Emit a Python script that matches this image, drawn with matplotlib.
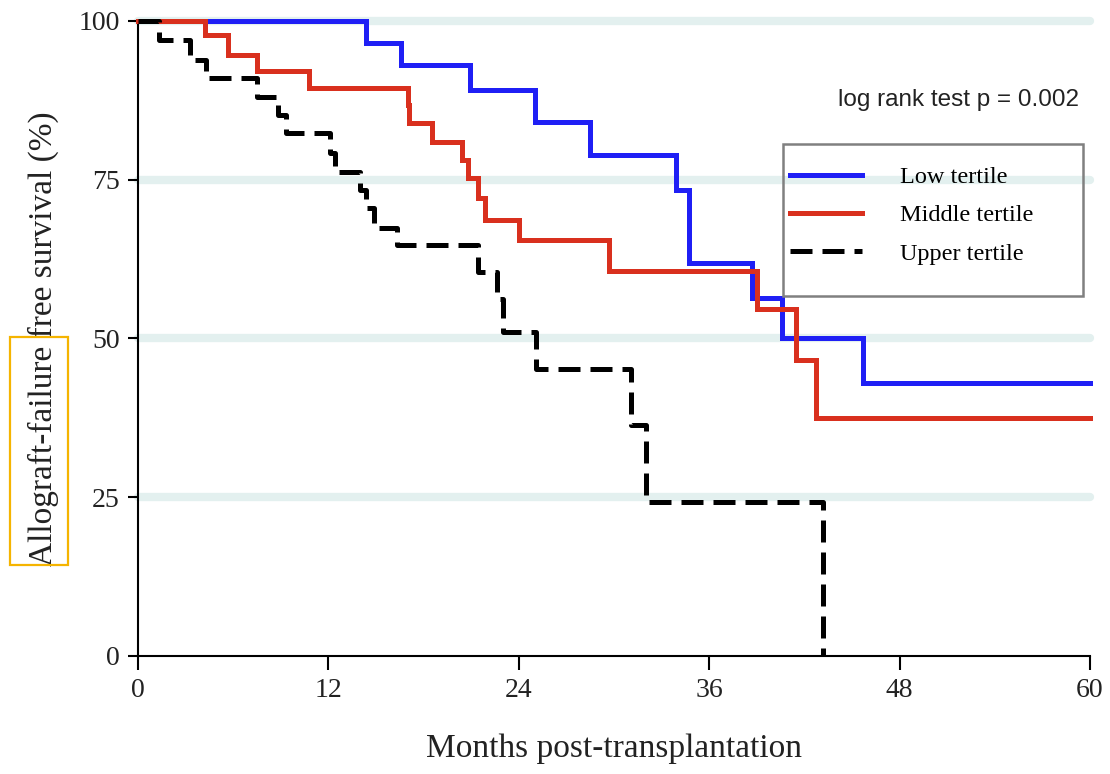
import matplotlib.pyplot as plt
from matplotlib.patches import Rectangle

# Kaplan-Meier step data (months, survival %)
low_t = [0, 14.4, 16.6, 20.9, 25.0, 28.5, 33.9, 34.7, 38.7, 40.6, 45.7, 60]
low_s = [100, 96.5, 93.1, 89.1, 84.1, 78.9, 73.4, 61.9, 56.4, 50.1, 43.0, 43.0]

mid_t = [0, 4.2, 5.7, 7.5, 10.8, 17.0, 17.1, 18.5, 20.4, 20.8, 21.4, 21.9,
         24.0, 29.7, 39.0, 41.5, 42.7, 60]
mid_s = [100, 97.8, 94.6, 92.1, 89.4, 86.8, 83.9, 81.0, 78.1, 75.3, 72.1, 68.7,
         65.5, 60.6, 54.6, 46.6, 37.5, 37.5]

up_t = [0, 1.3, 3.3, 4.3, 7.5, 8.8, 9.3, 12.1, 12.4, 14.0, 14.4, 14.9, 16.3,
        21.4, 22.6, 23.0, 25.1, 31.1, 32.0, 43.2]
up_s = [100, 97.0, 93.9, 91.0, 88.0, 85.2, 82.4, 79.2, 76.2, 73.4, 70.5, 67.4, 64.7,
        60.5, 56.2, 51.0, 45.2, 36.4, 24.3, 0]

labels = ["Low tertile", "Middle tertile", "Upper tertile"]
x_ticks = [0, 12, 24, 36, 48, 60]
y_ticks = [0, 25, 50, 75, 100]

serif = ["Liberation Serif", "DejaVu Serif"]

fig = plt.figure(figsize=(11.1, 7.74), dpi=100)
ax = fig.add_axes([0.1243, 0.1525, 0.8577, 0.8204])

# light horizontal bands
for yv in [25, 50, 75, 100]:
    ax.plot([0, 60], [yv, yv], color="#e3f0ef", lw=6, solid_capstyle="round",
            zorder=0, clip_on=False)

lw = 3.6
l1, = ax.step(low_t, low_s, where="post", color="#1f1ff5", lw=lw, zorder=3,
              clip_on=False, solid_joinstyle="miter")
l2, = ax.step(mid_t, mid_s, where="post", color="#d9301e", lw=lw, zorder=4,
              clip_on=False, solid_joinstyle="miter")
l3, = ax.step(up_t, up_s, where="post", color="black", lw=lw, zorder=5,
              linestyle=(0, (4.4, 2.0)), clip_on=False)

ax.set_xlim(0, 60)
ax.set_ylim(0, 100)
ax.set_xticks(x_ticks)
ax.set_yticks(y_ticks)
ax.spines["top"].set_visible(False)
ax.spines["right"].set_visible(False)
ax.spines["left"].set_linewidth(1.5)
ax.spines["bottom"].set_linewidth(1.5)
ax.tick_params(axis="x", length=10, width=1.5, labelsize=20, pad=6)
ax.tick_params(axis="y", length=7, width=1.5, labelsize=20, pad=6)
for lab in ax.get_xticklabels() + ax.get_yticklabels():
    lab.set_family(serif)
    lab.set_color("#222222")

ax.set_xlabel("Months post-transplantation", fontsize=24, family=serif,
              labelpad=22, color="#222222")
ax.set_ylabel("Allograft-failure free survival (%)", fontsize=24, family=serif,
              labelpad=14, color="#222222")

ax.text(0.988, 0.875, "log rank test p = 0.002", transform=ax.transAxes,
        ha="right", va="center", fontsize=17.5,
        family=["Liberation Sans", "DejaVu Sans"], color="#222222")

# legend box
ax.add_patch(Rectangle((0.677, 0.567), 0.316, 0.239, transform=ax.transAxes,
                       fill=True, facecolor="none", edgecolor="#808080", lw=1.8,
                       zorder=6, clip_on=False))
leg = ax.legend([l1, l2, l3], labels, loc="upper left",
                bbox_to_anchor=(0.6775, 0.783), frameon=False,
                prop={"family": serif, "size": 17.5}, handlelength=2.95,
                handletextpad=1.55, labelspacing=0.67, borderpad=0.3,
                borderaxespad=0)
leg.set_zorder(7)

# highlight box around part of the y label
fig.patches.append(Rectangle((10 / 1110, 1 - 565 / 774), 58 / 1110, 228 / 774,
                             transform=fig.transFigure, fill=False,
                             edgecolor="#f5b400", lw=1.6))

fig.savefig("out.png", dpi=100)
